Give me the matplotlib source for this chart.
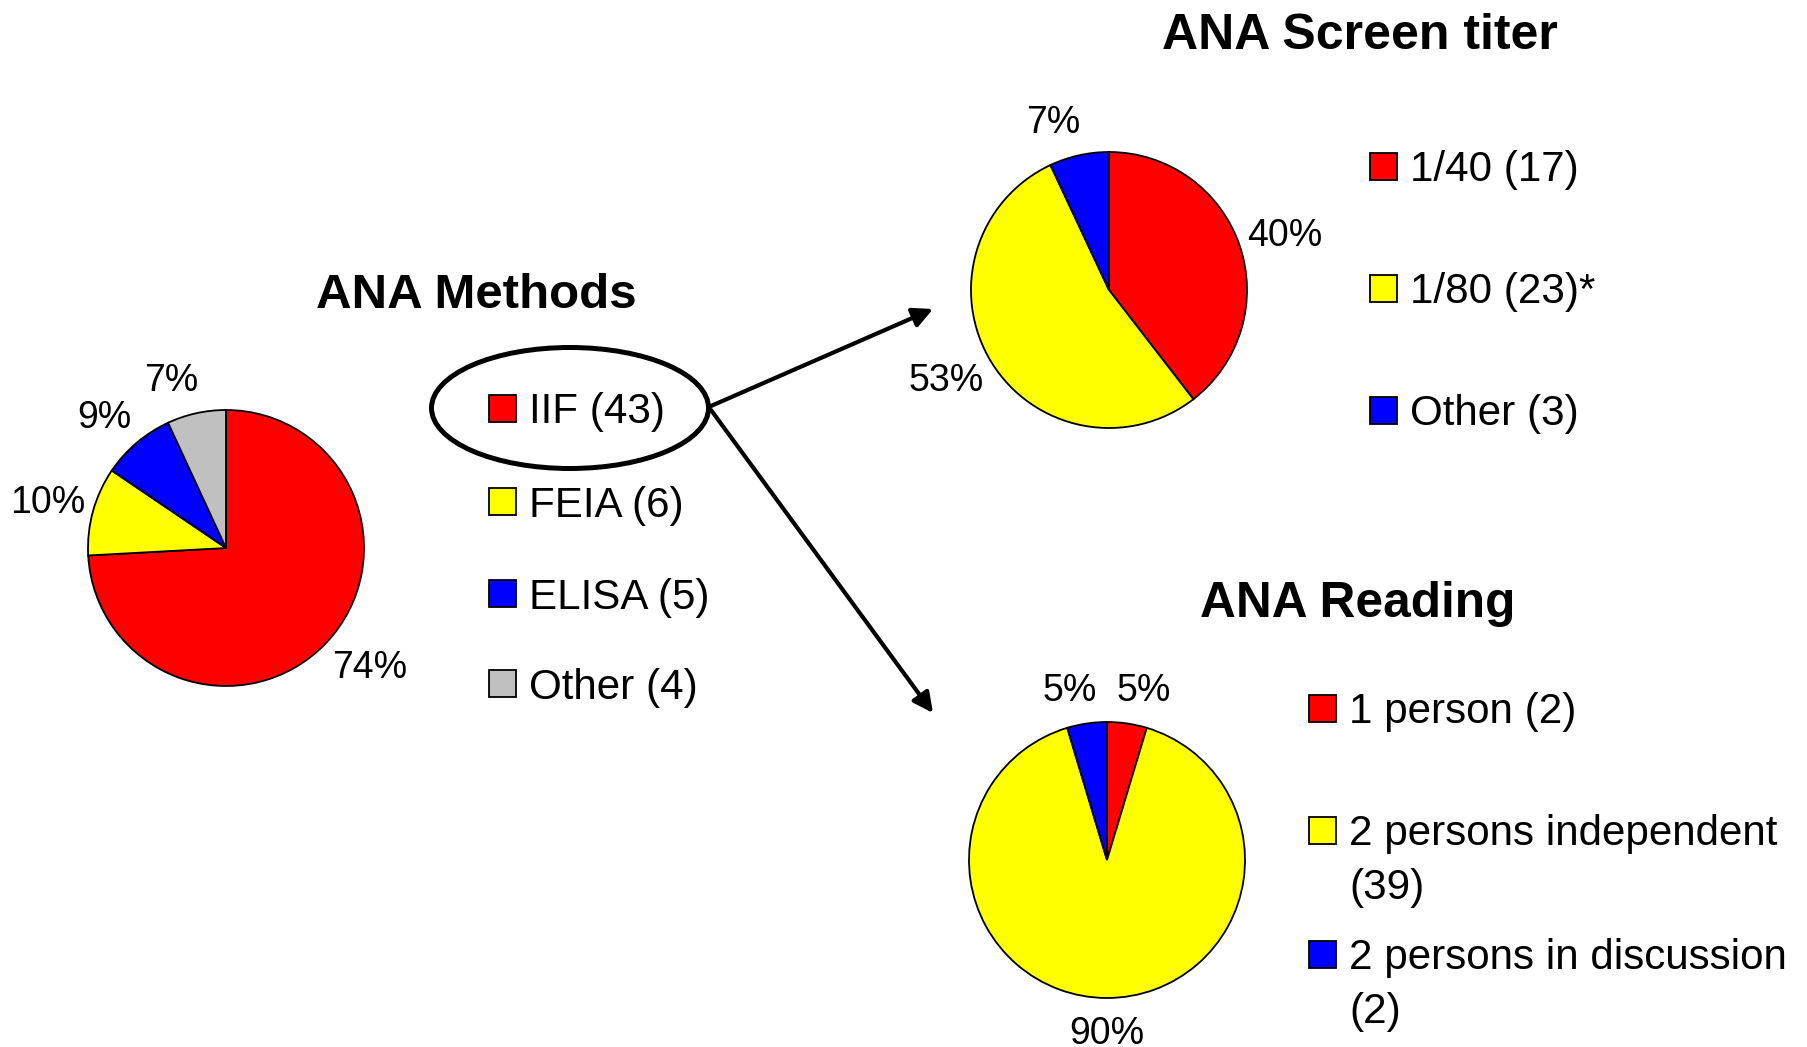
import matplotlib
matplotlib.use("Agg")
import numpy as np
import matplotlib.pyplot as plt
from matplotlib.patches import Ellipse, Rectangle

plt.rcParams['font.family'] = ['Liberation Sans', 'DejaVu Sans']

W, H = 1807, 1047

# ANA Methods
method_names = ["IIF (43)", "FEIA (6)", "ELISA (5)", "Other (4)"]
method_counts = [43, 6, 5, 4]
method_pct = ["74%", "10%", "9%", "7%"]
method_colors = ["#FF0000", "#FFFF00", "#0000FF", "#C0C0C0"]

# ANA Screen titer
titer_names = ["1/40 (17)", "1/80 (23)*", "Other (3)"]
titer_counts = [17, 23, 3]
titer_pct = ["40%", "53%", "7%"]
titer_colors = ["#FF0000", "#FFFF00", "#0000FF"]

# ANA Reading
reading_names = ["1 person (2)", "2 persons independent\n(39)", "2 persons in discussion\n(2)"]
reading_counts = [2, 39, 2]
reading_pct = ["5%", "90%", "5%"]
reading_colors = ["#FF0000", "#FFFF00", "#0000FF"]

fig = plt.figure(figsize=(W / 100, H / 100), dpi=100)

# overlay in pixel coords for titles, legends, ellipse, arrows
ov = fig.add_axes([0, 0, 1, 1])
ov.set_xlim(0, W)
ov.set_ylim(H, 0)
ov.axis("off")

pies = []


def draw_pie(cx, cy, r, counts, pct, colors):
    ax = fig.add_axes([(cx - r) / W, (H - cy - r) / H, 2 * r / W, 2 * r / H])
    wedges, texts = ax.pie(counts, labels=pct, colors=colors, startangle=90,
                           counterclock=False, labeldistance=1.12,
                           wedgeprops=dict(edgecolor="black", linewidth=1.3))
    for t in texts:
        t.set_fontsize(27)
        t.set_ha("center")
        t.set_va("center")
    ax.set_xlim(-1.0, 1.0)
    ax.set_ylim(-1.0, 1.0)
    ax.set_aspect("equal")
    pies.append((ax, r, wedges, texts))


def draw_legend(x, ys, names, colors, size=27, gap=13, line_gap=53):
    for y, name, c in zip(ys, names, colors):
        ov.add_patch(Rectangle((x, y - size / 2), size, size, facecolor=c,
                               edgecolor="black", linewidth=1.3))
        for i, line in enumerate(name.split("\n")):
            ov.text(x + size + gap, y + i * line_gap, line, fontsize=30.3,
                    ha="left", va="center_baseline")


draw_pie(226, 548, 138, method_counts, method_pct, method_colors)
draw_pie(1109, 290, 138, titer_counts, titer_pct, titer_colors)
draw_pie(1107, 860, 138, reading_counts, reading_pct, reading_colors)

ov.text(476, 296, "ANA Methods", fontsize=35.5, fontweight="bold", ha="center", va="center")
ov.text(1360, 36, "ANA Screen titer", fontsize=36, fontweight="bold", ha="center", va="center")
ov.text(1358, 604, "ANA Reading", fontsize=35.7, fontweight="bold", ha="center", va="center")

draw_legend(489, [408, 501, 593, 683], method_names, method_colors)
draw_legend(1370, [166, 288, 410], titer_names, titer_colors)
draw_legend(1309, [708, 830, 954], reading_names, reading_colors)

ov.add_patch(Ellipse((570, 408), 277, 121, fill=False, edgecolor="black", linewidth=3.6))

arrow = dict(arrowstyle="-|>", color="black", lw=3, mutation_scale=30, shrinkA=0, shrinkB=0)
ov.annotate("", xy=(933, 309), xytext=(711, 406), arrowprops=arrow)
ov.annotate("", xy=(933, 713), xytext=(711, 410), arrowprops=arrow)

# place percent labels just outside each wedge, like an "outside end" label
fig.canvas.draw()
rend = fig.canvas.get_renderer()
for ax, r, wedges, texts in pies:
    for w, t in zip(wedges, texts):
        ang = np.deg2rad((w.theta1 + w.theta2) / 2)
        c, s = np.cos(ang), np.sin(ang)
        bb = t.get_window_extent(rend)
        dx = bb.width / 2 * np.clip(4 * c, -1, 1) / r
        t.set_position((1.06 * c + dx, 1.06 * s + 0.19 * s - 0.01))

fig.savefig("out.png", dpi=100, facecolor="white")
